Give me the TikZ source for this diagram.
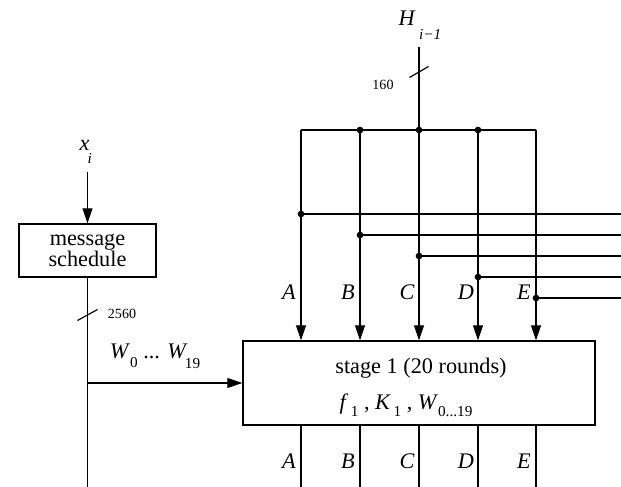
\documentclass[tikz,border=0pt]{standalone}
\usepackage{fontspec}
\setmainfont{Liberation Serif}
\usetikzlibrary{arrows.meta}

\begin{document}
\begin{tikzpicture}[x=0.03cm,y=-0.03cm,
    line width=1pt,
    >={Triangle[length=4.5mm,width=3mm]},
    lbl/.style={font=\fontsize{19}{20}\selectfont\itshape},
    num/.style={font=\fontsize{12}{13}\selectfont},
    txt/.style={font=\fontsize{19}{20}\selectfont},
    blk/.style={draw,line width=1.2pt,font=\fontsize{19}{17.5}\selectfont,align=center,inner sep=0pt}]
      \useasboundingbox (0,0) rectangle (621,487);

      % BUS FROM H
      \coordinate (topA) at (301,130);
      \draw[fill] (360,130) circle (2.3pt) coordinate (topB);
      \draw[fill] (419,130) circle (2.3pt) coordinate (topC);
      \draw[fill] (478,130) circle (2.3pt) coordinate (topD);
      \coordinate (topE) at (536,130);
      \coordinate (hin) at (419,47);
      \coordinate (hcut) at (419,72);  % used for the 160 slash

      \draw (hin) -- (topC);
      \draw (topA) -- (topE);
      \draw (hcut) +(-9.5,5.5) -- +(9.5,-5.5);

      % TAPS TO THE RIGHT
      \draw[fill] (301,214) circle (2.3pt) coordinate (tapA);
      \draw[fill] (360,235) circle (2.3pt) coordinate (tapB);
      \draw[fill] (419,256) circle (2.3pt) coordinate (tapC);
      \draw[fill] (478,277) circle (2.3pt) coordinate (tapD);
      \draw[fill] (536,298) circle (2.3pt) coordinate (tapE);
      \coordinate (outA) at (621,214);
      \coordinate (outB) at (621,235);
      \coordinate (outC) at (621,256);
      \coordinate (outD) at (621,277);
      \coordinate (outE) at (621,298);

      \draw (tapA) -- (outA);
      \draw (tapB) -- (outB);
      \draw (tapC) -- (outC);
      \draw (tapD) -- (outD);
      \draw (tapE) -- (outE);

      % BLOCKS
      \node[blk, minimum width=10.56cm, minimum height=2.52cm] (stage) at (419,383) {};
      \node[blk, minimum width=4.11cm, minimum height=1.59cm] (msg) at (87.5,250.5) {message\\schedule};

      % ARROWS
      \draw[->] (topA) -- (topA |- stage.north);
      \draw[->] (topB) -- (topB |- stage.north);
      \draw[->] (topC) -- (topC |- stage.north);
      \draw[->] (topD) -- (topD |- stage.north);
      \draw[->] (topE) -- (topE |- stage.north);

      \coordinate (endA) at (301,487);
      \coordinate (endB) at (360,487);
      \coordinate (endC) at (419,487);
      \coordinate (endD) at (478,487);
      \coordinate (endE) at (536,487);
      \draw (stage.south -| endA) -- (endA);
      \draw (stage.south -| endB) -- (endB);
      \draw (stage.south -| endC) -- (endC);
      \draw (stage.south -| endD) -- (endD);
      \draw (stage.south -| endE) -- (endE);

      \coordinate (xin) at (87.5,172);
      \coordinate (wend) at (87.5,487);
      \coordinate (wsplit) at (87.5,383);
      \coordinate (wcut) at (87.5,315);  % used for the 2560 slash
      \draw[->] (xin) -- (msg.north);
      \draw (msg.south) -- (wend);
      \draw[->] (wsplit) -- (stage.west);
      \draw (wcut) +(-10,5.5) -- +(10,-5.5);

      % NOTES
      \node[lbl, anchor=base west, inner sep=0pt] (hlab) at (398,25.3)
        {H\kern0.2em\raisebox{-0.63em}{\fontsize{13}{13}\selectfont i−1}};
      \node[num] (hnum) at (383,84.5) {160};
      \node[lbl, anchor=base west, inner sep=0pt] (xlab) at (79,151)
        {x\kern-0.08em\raisebox{-0.54em}{\fontsize{13}{13}\selectfont i}};
      \node[num] (wnum) at (122,314) {2560};
      \node[txt] (wlab) at (155,356)
        {\textit{W}\raisebox{-0.4em}{\fontsize{13}{13}\selectfont 0} ... \textit{W}\kern-0.12em\raisebox{-0.45em}{\fontsize{13}{13}\selectfont 19}};

      \node[txt] (stagetxt) at (421,368) {stage 1 (20 rounds)};
      \node[txt] (functxt) at (406,405)
        {\textit{f}\raisebox{-0.3em}{\fontsize{13}{13}\selectfont\,1} , \textit{K}\raisebox{-0.3em}{\fontsize{13}{13}\selectfont\,1} , \textit{W}\raisebox{-0.3em}{\fontsize{13}{13}\selectfont 0...19}};

      \node[lbl] (inA) at (289,292) {A};
      \node[lbl] (inB) at (348,292) {B};
      \node[lbl] (inC) at (407,292) {C};
      \node[lbl] (inD) at (466,292) {D};
      \node[lbl] (inE) at (524,292) {E};

      \node[lbl] (outlA) at (289,461) {A};
      \node[lbl] (outlB) at (348,461) {B};
      \node[lbl] (outlC) at (407,461) {C};
      \node[lbl] (outlD) at (466,461) {D};
      \node[lbl] (outlE) at (524,461) {E};

    \end{tikzpicture}
\end{document}
